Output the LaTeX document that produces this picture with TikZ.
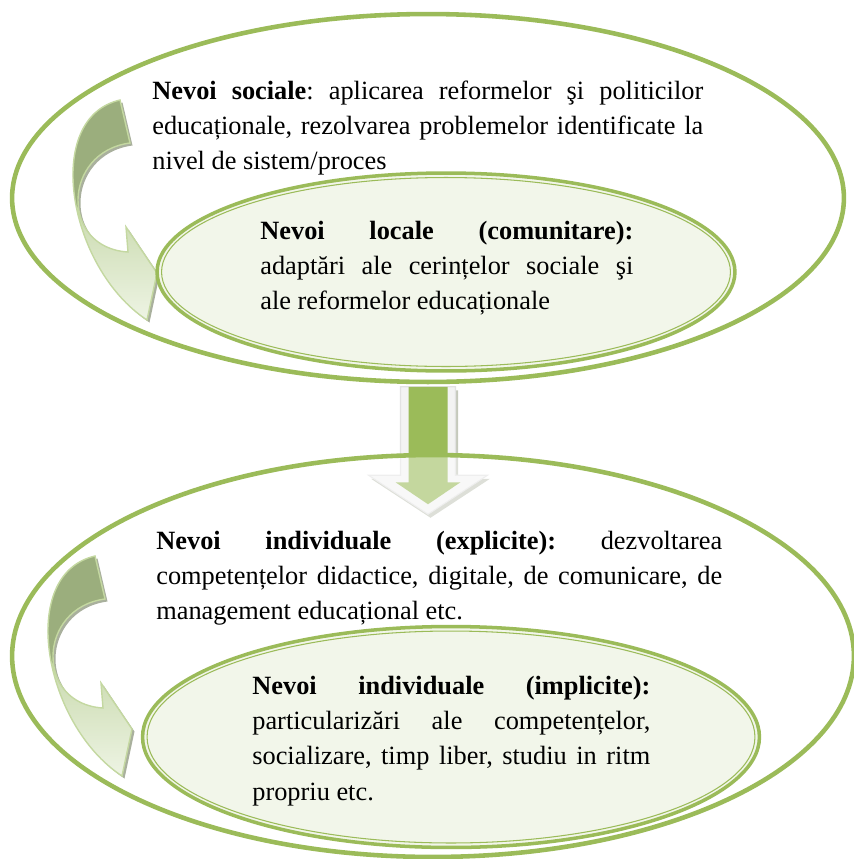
\documentclass[tikz,border=0pt]{standalone}
\usepackage{fontspec}
\setmainfont{Liberation Serif}
\usetikzlibrary{shapes.geometric}

\definecolor{needgreen}{HTML}{9BBB59}
\definecolor{needfill}{HTML}{F2F6EA}
\definecolor{ribbondark}{HTML}{9BAE7D}
\definecolor{ribbonmid}{HTML}{C9DAAE}
\definecolor{ribbonlight}{HTML}{EEF4E4}
\definecolor{ribbonedge}{HTML}{C4D8A1}
\definecolor{ribbonshadow}{HTML}{A9B09D}
\definecolor{blockfill}{HTML}{F3F3F3}
\definecolor{blockedge}{HTML}{E2E2E2}
\definecolor{blockshadow}{HTML}{C5C9BC}

\pgfdeclareverticalshading{ribbon}{100bp}{color(0bp)=(ribbonlight); color(25bp)=(ribbonlight); color(50.5bp)=(ribbonmid); color(51bp)=(ribbondark); color(100bp)=(ribbondark)}

\tikzset{
  ribbon arrow/.pic={
    \fill[ribbonshadow, shift={(2.5,2.5)}] (0,0) -- (10,43) .. controls (-58,52) and (-60,148) .. (8,152) -- (6,127) -- (37,173) -- (27,220) .. controls (-52,168) and (-78,18) .. (0,0) -- cycle;
    \shadedraw[shading=ribbon, draw=ribbonedge, line width=0.8pt] (0,0) -- (10,43) .. controls (-58,52) and (-60,148) .. (8,152) -- (6,127) -- (37,173) -- (27,220) .. controls (-52,168) and (-78,18) .. (0,0) -- cycle;
  }
}

\begin{document}
\begin{tikzpicture}[x=0.02cm, y=-0.02cm,
    needbig/.style={ellipse, draw=needgreen, line width=2.6pt, inner sep=0pt},
    needsmall/.style={ellipse, draw=needgreen, fill=needfill, line width=2pt, inner sep=0pt},
    needring/.style={draw=needgreen, line width=0.6pt},
    needtext/.style={anchor=base west, inner sep=0pt, align=justify, font=\fontsize{15}{20.2}\selectfont\frenchspacing}]
  \useasboundingbox (0,0) rectangle (853,859);

  % nevoi sociale si locale
  \node[needbig, minimum width=16.64cm, minimum height=7.36cm] (social) at (428,198) {};
  \pic at (120,100) {ribbon arrow};
  \node[needsmall, minimum width=11.56cm, minimum height=3.96cm] (local) at (446,272) {};
  \draw[needring] (local.center) ellipse [x radius=5.69cm, y radius=1.89cm];
  \node[needtext, text width=11.02cm] (socialtext) at (152,99)
    {\textbf{Nevoi sociale}: aplicarea reformelor şi politicilor\linebreak
     educaționale, rezolvarea problemelor identificate la\linebreak
     nivel de sistem/proces};
  \node[needtext, text width=7.46cm] (localtext) at (260,239)
    {\textbf{Nevoi locale (comunitare):}\linebreak
     adaptări ale cerințelor sociale şi\linebreak
     ale reformelor educaționale};

  % sageata spre nevoile individuale
  \begin{scope}[shift={(social.south)}]
    \fill[blockshadow, shift={(2.5,3.5)}] (-27.5,2.5) -- (-27.5,91) -- (-59.5,91) -- (0,130) -- (59.5,91) -- (27.5,91) -- (27.5,2.5) -- cycle;
    \filldraw[fill=blockfill, draw=blockedge, line width=0.6pt] (-27.5,2.5) -- (-27.5,91) -- (-59.5,91) -- (0,130) -- (59.5,91) -- (27.5,91) -- (27.5,2.5) -- cycle;
    \fill[needgreen] (-19.5,2.5) -- (-19.5,98) -- (-32.5,98) -- (0,120) -- (32.5,98) -- (19.5,98) -- (19.5,2.5) -- cycle;
  \end{scope}

  % nevoi individuale
  \node[needbig, fill=white, fill opacity=0.42, minimum width=16.84cm, minimum height=8.04cm] (explicit) at (433,656) {};
  \pic at (95,556) {ribbon arrow};
  \node[needsmall, minimum width=12.34cm, minimum height=4.42cm] (implicit) at (451,737) {};
  \draw[needring] (implicit.center) ellipse [x radius=6.08cm, y radius=2.12cm];
  \node[needtext, text width=11.32cm] (explicittext) at (156,549)
    {\textbf{Nevoi individuale (explicite):} dezvoltarea\linebreak
     competențelor didactice, digitale, de comunicare, de\linebreak
     management educațional etc.};
  \node[needtext, text width=7.96cm] (implicittext) at (252,694)
    {\textbf{Nevoi individuale (implicite):}\linebreak
     particularizări ale competențelor,\linebreak
     socializare, timp liber, studiu in ritm\linebreak
     propriu etc.};
\end{tikzpicture}
\end{document}
